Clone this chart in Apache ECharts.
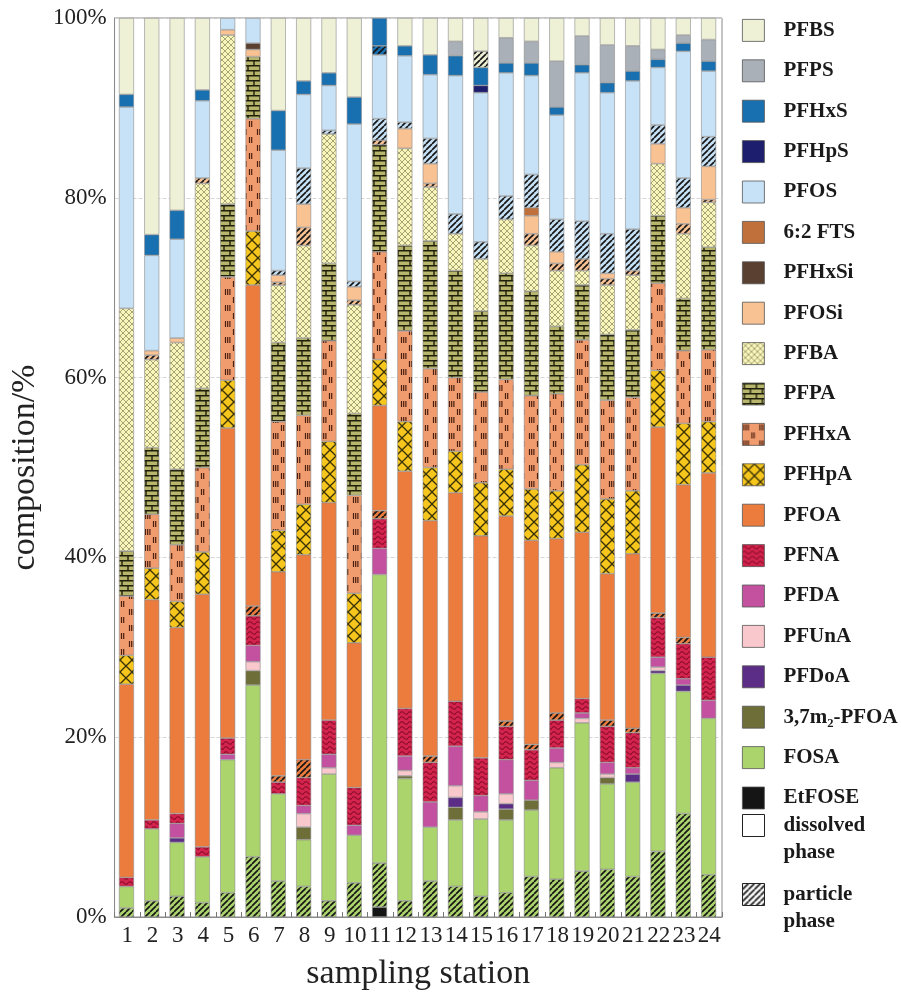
<!DOCTYPE html>
<html>
<head>
<meta charset="utf-8">
<script src="https://cdn.jsdelivr.net/npm/echarts@6/dist/echarts.min.js"></script>
<style>html,body{margin:0;padding:0;background:#fff;}#chart{width:901px;height:996px;}</style>
</head>
<body>
<div id="chart"></div>
<script>
// ---------- DATA (percent of total, per sampling station) ----------
const stations = ['1','2','3','4','5','6','7','8','9','10','11','12','13','14','15','16','17','18','19','20','21','22','23','24'];
const yTicks = [0, 20, 40, 60, 80, 100];

const EtFOSE   = [0,0,0,0,0,0,0,0,0,0,1.1,0,0,0,0,0,0,0,0,0,0,0,0,0];
const FOSA_p   = [1.0,1.8,2.3,1.6,2.7,6.7,4.0,3.4,1.8,3.8,4.9,1.8,4.0,3.4,2.3,2.7,4.5,4.2,5.1,5.3,4.5,7.3,11.5,4.7];
const FOSA_d   = [2.4,8.0,6.0,5.1,14.8,19.1,9.7,5.2,14.1,5.3,32.1,13.6,6.0,7.4,8.6,8.1,7.4,12.4,16.5,9.5,10.5,19.8,13.6,17.4];
const M37PFOA  = [0,0,0,0,0,1.6,0,1.4,0,0,0,0.3,0,1.4,0,1.2,1.1,0,0,0.7,0,0,0,0];
const PFDoA    = [0,0,0.5,0,0,0,0,0,0,0,0,0,0,1.1,0,0.6,0,0,0,0,0.9,0.3,0.7,0];
const PFUnA    = [0,0,0,0,0,1.0,0,1.5,0.7,0,0,0.6,0,1.3,0.8,1.1,0,0.6,0.5,0.4,0,0.4,0,0];
const PFDA     = [0,0,1.6,0,0.6,1.8,0,0.9,1.5,1.1,2.9,1.6,2.8,4.4,1.8,3.8,2.2,1.6,0.6,1.3,0.7,1.1,0.7,2.0];
const PFNA     = [1.0,1.0,1.1,1.1,1.8,3.3,1.3,3.1,3.8,4.2,3.3,5.3,4.4,5.0,4.2,3.7,3.4,3.1,1.6,4.0,3.9,4.4,3.9,4.8];
const PFOA_p   = [0,0,0,0,0,1.1,0.7,2.0,0,0,0.9,0,0.7,0,0,0.6,0.6,0.8,0,0.7,0.5,0.5,0.7,0];
const PFOA_d   = [21.5,24.5,20.7,28.1,34.5,35.7,22.7,22.8,24.2,16.1,11.7,26.4,26.2,23.2,24.7,22.8,22.7,19.4,18.5,16.3,19.4,20.7,17.0,20.5];
const PFHpA    = [3.2,3.5,2.9,4.7,5.3,6.0,4.6,5.6,6.8,5.5,5.1,5.5,5.9,4.6,5.9,5.2,5.7,5.3,7.5,8.3,7.0,6.3,6.8,5.7];
const PFHxA    = [6.6,6.0,6.3,9.4,11.5,12.5,12.1,9.9,11.2,10.9,12.0,10.1,11.0,8.2,10.1,10.0,10.4,10.8,13.9,11.0,10.4,9.7,8.1,8.0];
const PFPA     = [5.0,7.4,8.4,8.8,8.1,6.9,8.8,8.6,8.6,9.1,11.9,9.5,14.2,11.9,9.0,11.8,11.6,7.5,6.1,7.3,7.5,7.5,5.8,11.4];
const PFBA     = [27.0,9.8,14.1,22.8,18.8,0,6.4,10.3,14.4,12.1,0,10.8,6.0,4.1,5.8,6.0,5.1,6.2,1.6,5.5,6.1,5.8,7.2,5.0];
const PFOSi_p  = [0,0.5,0,0.6,0,0,0.3,2.0,0,0.5,0.5,0,0.4,0,0,0,1.3,0.8,1.3,0.7,0.5,0,1.1,0.3];
const PFOSi_d  = [0,0.5,0.5,0,0.6,0.8,0.8,2.6,0,1.5,0,2.2,2.2,0,0,0,2.0,1.3,0,0.6,0,2.2,1.8,3.7];
const PFHxSi   = [0,0,0,0,0,0.7,0,0,0,0,0,0,0,0,0,0,0,0,0,0,0,0,0,0];
const FTS62    = [0,0,0,0,0,0,0,0,0,0,0,0,0,0,0,0,0.9,0,0,0,0,0,0,0];
const PFOS_p   = [0,0,0,0,0,0,0.5,4.0,0.4,0.6,2.4,0.7,2.8,2.2,1.9,2.6,3.7,3.6,4.2,4.4,4.6,2.1,3.3,3.3];
const PFOS_d   = [22.4,10.6,11.0,8.6,1.3,2.8,13.4,8.2,5.0,17.5,7.1,7.4,7.1,15.4,16.6,13.7,11.0,11.6,16.5,15.7,16.5,6.4,14.1,7.3];
const PFHpS    = [0,0,0,0,0,0,0,0,0,0,0,0,0,0,0.8,0,0,0,0,0,0,0,0,0];
const PFHxS_p  = [0,0,0,0,0,0,0,0,0,0,1.0,0,0,0,0,0,0,0,0,0,0,0,0,0];
const PFHxS_d  = [1.4,2.3,3.2,1.2,0,0,4.4,1.5,1.4,3.0,3.1,1.1,2.2,2.2,2.0,1.1,1.4,0.9,0.9,1.1,1.1,0.9,0.9,1.1];
const PFPS     = [0,0,0,0,0,0,0,0,0,0,0,0,0,1.6,0,2.8,2.4,5.1,3.2,4.2,2.8,1.1,0.9,2.4];
const PFBS_p   = [0,0,0,0,0,0,0,0,0,0,0,0,0,0,1.8,0,0,0,0,0,0,0,0,0];
const PFBS_d   = [8.5,24.1,21.4,8.0,0,0,10.3,7.0,6.1,8.8,0,3.1,4.1,2.6,3.7,2.2,2.6,4.8,2.0,3.0,3.1,3.5,1.9,2.4];

const legendNames = ['PFBS','PFPS','PFHxS','PFHpS','PFOS','6:2 FTS','PFHxSi','PFOSi','PFBA','PFPA','PFHxA','PFHpA','PFOA','PFNA','PFDA','PFUnA','PFDoA','3,7m\u2082-PFOA','FOSA','EtFOSE'];
const phaseNames = ['dissolved phase','particle phase'];

// ---------- PATTERNS ----------
function pat(w, h, bg, draw) {
  const c = document.createElement('canvas');
  c.width = w; c.height = h;
  const g = c.getContext('2d');
  g.fillStyle = bg; g.fillRect(0, 0, w, h);
  if (draw) draw(g, w, h);
  return { image: c, repeat: 'repeat' };
}
function hatch(bg) {
  return pat(6, 6, bg, (g, w, h) => {
    g.strokeStyle = '#151515'; g.lineWidth = 1.7;
    for (const o of [-w, 0, w]) { g.beginPath(); g.moveTo(o, h); g.lineTo(o + w, 0); g.stroke(); }
  });
}
function lattice(bg, fg, s, lw) {
  return pat(s, s, bg, (g, w, h) => {
    g.strokeStyle = fg; g.lineWidth = lw;
    for (const o of [-w, 0, w]) {
      g.beginPath(); g.moveTo(o, h); g.lineTo(o + w, 0); g.stroke();
      g.beginPath(); g.moveTo(o, 0); g.lineTo(o + w, h); g.stroke();
    }
  });
}
const brick = pat(12, 10, '#b8b66c', (g) => {
  g.strokeStyle = '#1e1e0a'; g.lineWidth = 1.4;
  g.beginPath(); g.moveTo(0, 0.7); g.lineTo(12, 0.7); g.moveTo(0, 5.7); g.lineTo(12, 5.7);
  g.moveTo(2, 0); g.lineTo(2, 5.7); g.moveTo(8, 5.7); g.lineTo(8, 10); g.stroke();
});
const dashes = pat(16, 16, '#f09c6e', (g) => {
  g.strokeStyle = '#4a1e10'; g.lineWidth = 1.2;
  g.beginPath();
  for (const x of [1.5, 3.7, 5.9]) { g.moveTo(x, 1); g.lineTo(x, 7); }
  for (const x of [9.5, 11.7]) { g.moveTo(x, 9); g.lineTo(x, 15); }
  g.stroke();
});
const wave = pat(8, 5, '#d2244c', (g) => {
  g.strokeStyle = '#8a0c2c'; g.lineWidth = 1.2;
  g.beginPath(); g.moveTo(0, 3);
  g.quadraticCurveTo(2, 0.5, 4, 3); g.quadraticCurveTo(6, 5.5, 8, 3); g.stroke();
});

const C = {
  FOSA: '#acd46c', OA: '#ec7c3e', OS: '#c7e2f6', OSi: '#f9c293', BS: '#eef1d6'
};

// ---------- LAYERS (bottom to top) ----------
const layers = [
  { name: 'EtFOSE', data: EtFOSE, fill: '#151515' },
  { name: 'FOSA (p)', data: FOSA_p, fill: hatch(C.FOSA) },
  { name: 'FOSA', data: FOSA_d, fill: C.FOSA },
  { name: '3,7m\u2082-PFOA', data: M37PFOA, fill: '#6e6e38' },
  { name: 'PFDoA', data: PFDoA, fill: '#5c2d86' },
  { name: 'PFUnA', data: PFUnA, fill: '#f8c8cc' },
  { name: 'PFDA', data: PFDA, fill: '#c450a0' },
  { name: 'PFNA', data: PFNA, fill: wave },
  { name: 'PFOA (p)', data: PFOA_p, fill: hatch(C.OA) },
  { name: 'PFOA', data: PFOA_d, fill: C.OA },
  { name: 'PFHpA', data: PFHpA, fill: lattice('#f6c61c', '#3a3208', 12, 1.3) },
  { name: 'PFHxA', data: PFHxA, fill: dashes },
  { name: 'PFPA', data: PFPA, fill: brick },
  { name: 'PFBA', data: PFBA, fill: lattice('#faf5b8', '#9c9c70', 6, 0.9) },
  { name: 'PFOSi (p)', data: PFOSi_p, fill: hatch(C.OSi) },
  { name: 'PFOSi', data: PFOSi_d, fill: C.OSi },
  { name: 'PFHxSi', data: PFHxSi, fill: '#5a4030' },
  { name: '6:2 FTS', data: FTS62, fill: '#c0703a' },
  { name: 'PFOS (p)', data: PFOS_p, fill: hatch(C.OS) },
  { name: 'PFOS', data: PFOS_d, fill: C.OS },
  { name: 'PFHpS', data: PFHpS, fill: '#1e1e6e' },
  { name: 'PFHxS (p)', data: PFHxS_p, fill: hatch('#1870b0') },
  { name: 'PFHxS', data: PFHxS_d, fill: '#1870b0' },
  { name: 'PFPS', data: PFPS, fill: '#aab0b8' },
  { name: 'PFBS (p)', data: PFBS_p, fill: hatch(C.BS) },
  { name: 'PFBS', data: PFBS_d, fill: C.BS }
];

const series = layers.map(L => ({
  name: L.name, type: 'bar', stack: 'all', barWidth: 15,
  data: L.data.map(v => (v ? v : null)),
  itemStyle: { color: L.fill, borderColor: '#8c8c8c', borderWidth: 0.6 },
  emphasis: { disabled: true }
}));
series.push({ name: 'dissolved phase', type: 'bar', stack: 'phase', data: [], itemStyle: { color: '#ffffff', borderColor: '#222', borderWidth: 1 } });
series.push({ name: 'particle phase', type: 'bar', stack: 'phase', data: [], itemStyle: { color: hatch('#ffffff'), borderColor: '#222', borderWidth: 1 } });

const serif = 'Liberation Serif';
const phaseLegend = (name, top) => ({
  data: [name], orient: 'vertical', left: 742, top: top, padding: 0,
  itemWidth: 22, itemHeight: 22, icon: 'rect', selectedMode: false,
  itemStyle: { borderColor: '#222', borderWidth: 1 },
  formatter: n => '\n' + n.replace(' ', '\n'),
  textStyle: { fontFamily: serif, fontWeight: 'bold', fontSize: 21, color: '#1a1a1a', lineHeight: 27, padding: [0, 0, 0, 14] }
});

const chart = echarts.init(document.getElementById('chart'), null, { renderer: 'canvas' });
chart.setOption({
  animation: false,
  backgroundColor: '#ffffff',
  grid: { left: 105, right: 179, top: 18, bottom: 68, show: true, borderColor: '#8a8a8a', borderWidth: 1 },
  legend: [
    {
      data: legendNames, orient: 'vertical', left: 742, top: 19, padding: 0,
      itemWidth: 22, itemHeight: 22, itemGap: 17.6, icon: 'rect', selectedMode: false,
      itemStyle: { borderColor: '#555', borderWidth: 0.8 },
      textStyle: { fontFamily: serif, fontWeight: 'bold', fontSize: 21, color: '#1a1a1a', padding: [0, 0, 0, 14] }
    },
    phaseLegend(phaseNames[0], 785),
    phaseLegend(phaseNames[1], 854)
  ],
  xAxis: {
    type: 'category', data: stations,
    name: 'sampling station', nameLocation: 'middle', nameGap: 40,
    nameTextStyle: { fontFamily: serif, fontSize: 34, color: '#222' },
    axisLine: { lineStyle: { color: '#8a8a8a' } },
    axisTick: { show: true, inside: true, length: 5, lineStyle: { color: '#777' } },
    axisLabel: { fontFamily: serif, fontSize: 23, color: '#222', margin: 7, interval: 0 }
  },
  yAxis: {
    type: 'value', min: yTicks[0], max: yTicks[yTicks.length - 1], interval: 20,
    name: 'composition/%', nameLocation: 'middle', nameGap: 70, nameRotate: 90,
    nameTextStyle: { fontFamily: serif, fontSize: 34, color: '#222' },
    axisLine: { show: true, lineStyle: { color: '#8a8a8a' } },
    axisTick: { show: false },
    axisLabel: { fontFamily: serif, fontSize: 23, color: '#222', margin: 8, formatter: '{value}%' },
    splitLine: { show: true, lineStyle: { color: '#d6d6d6', type: 'dashed', width: 1 } }
  },
  series: series
});
</script>
</body>
</html>
